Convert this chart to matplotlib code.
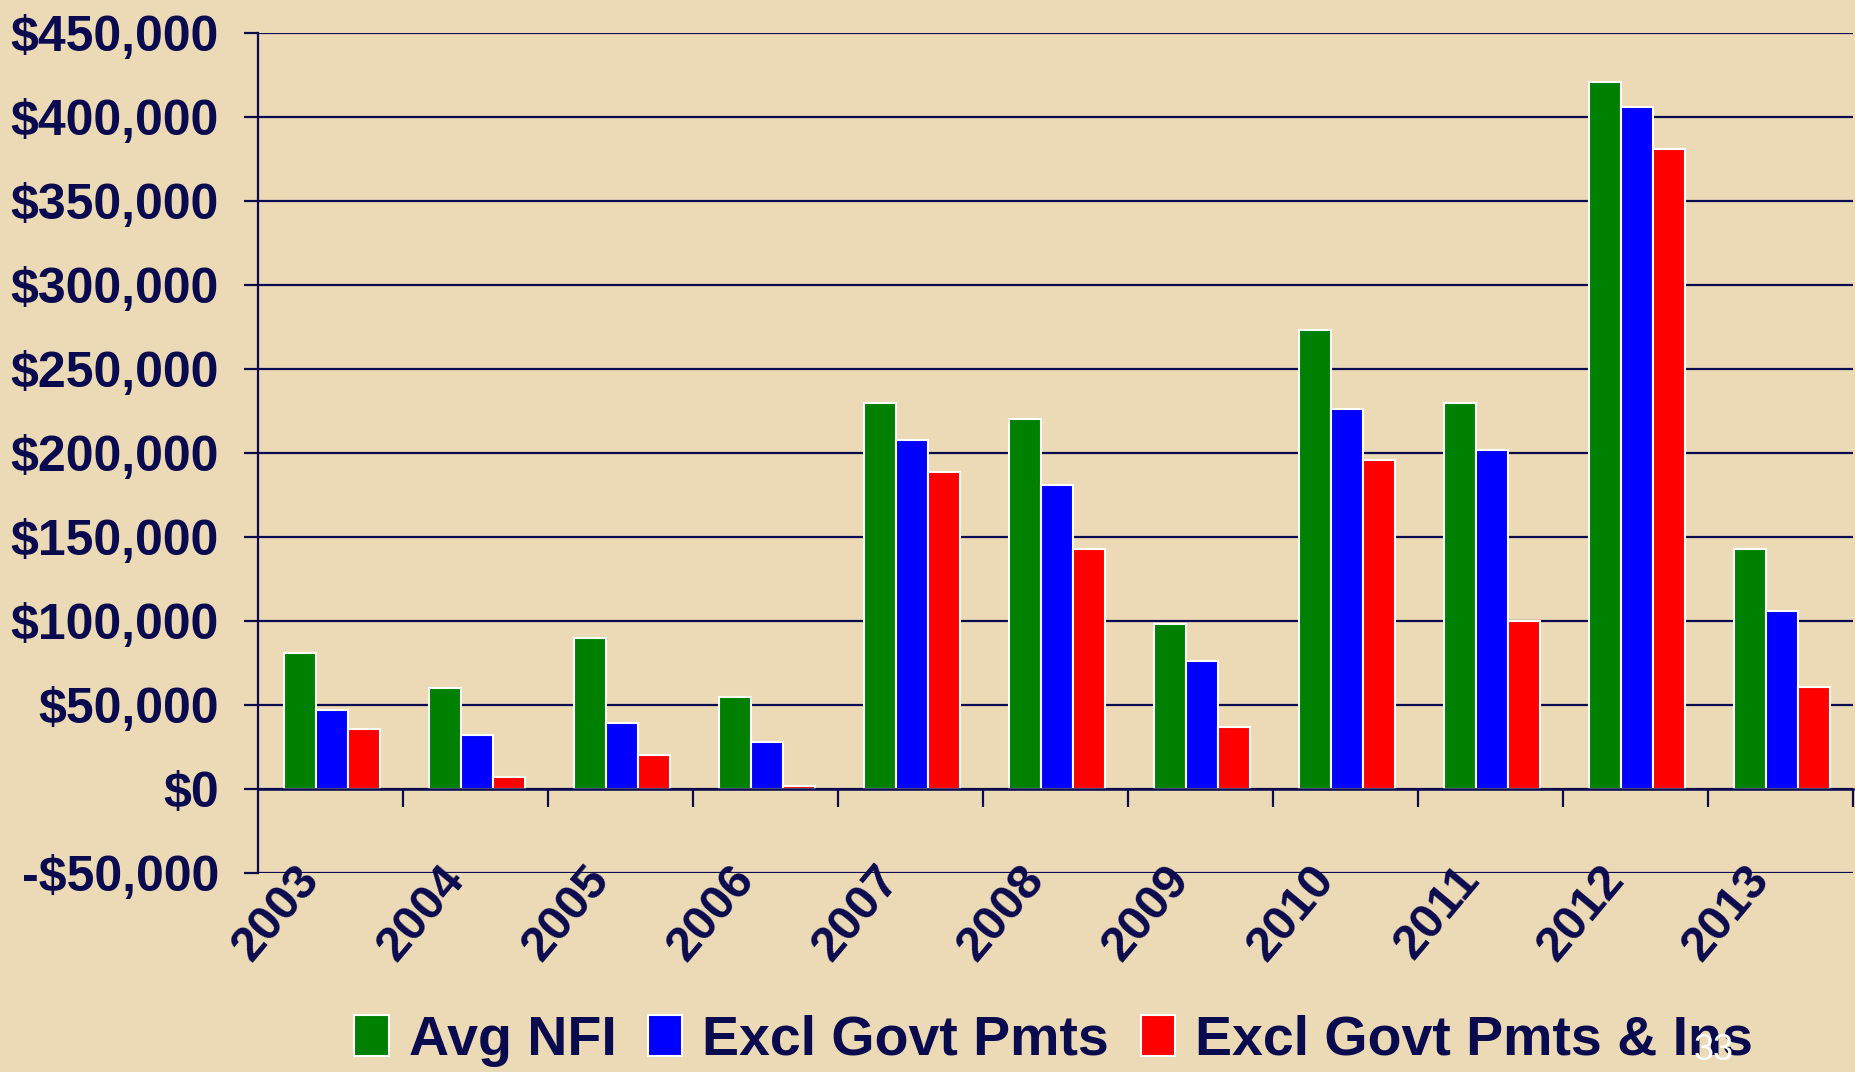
import numpy as np
import matplotlib.pyplot as plt
from matplotlib.ticker import FuncFormatter

# Data
years = ['2003', '2004', '2005', '2006', '2007', '2008', '2009', '2010', '2011', '2012', '2013']
avg_nfi = [81000, 60000, 90000, 55000, 230000, 220000, 98000, 273000, 230000, 421000, 143000]
excl_govt = [47000, 32000, 39000, 28000, 208000, 181000, 76000, 226000, 202000, 406000, 106000]
excl_govt_ins = [36000, 7000, 20000, 2000, 189000, 143000, 37000, 196000, 100000, 381000, 61000]
series_names = ['Avg NFI', 'Excl Govt Pmts', 'Excl Govt Pmts & Ins']
series_colors = ['#008000', '#0000ff', '#ff0000']

navy = '#0a0a4e'
bg = '#ebdab5'
font = 'Liberation Sans'

fig = plt.figure(figsize=(18.55, 10.72), dpi=100, facecolor=bg)
ax = fig.add_axes([0.139, 0.1857, 0.860, 0.7833])
ax.set_facecolor('none')

x = np.arange(len(years))
width = 0.22
for k, (vals, name, col) in enumerate(zip([avg_nfi, excl_govt, excl_govt_ins], series_names, series_colors)):
    ax.bar(x + 0.01 + (k - 1) * width, vals, width, color=col, edgecolor='white',
           linewidth=1.5, label=name, zorder=3)

ax.set_xlim(-0.5, len(years) - 0.5)
ax.set_ylim(-50000, 450000)
ax.set_yticks(np.arange(-50000, 450001, 50000))

def money(v, pos):
    if v < 0:
        return '-${:,.0f}'.format(-v)
    return '${:,.0f}'.format(v)

ax.yaxis.set_major_formatter(FuncFormatter(money))
ax.grid(axis='y', color=navy, linewidth=1.6, zorder=1)
ax.tick_params(axis='y', direction='out', length=10, width=1.6, color=navy, pad=18,
               labelsize=36, labelcolor=navy)
for lab in ax.get_yticklabels():
    lab.set_fontweight('bold')
    lab.set_fontfamily(font)

# x axis sits on the zero line with ticks at category boundaries
ax.spines['top'].set_visible(False)
ax.spines['right'].set_visible(False)
ax.spines['bottom'].set_position(('data', 0))
ax.spines['bottom'].set_color(navy)
ax.spines['bottom'].set_linewidth(1.8)
ax.spines['bottom'].set_zorder(4)
ax.spines['left'].set_color(navy)
ax.spines['left'].set_linewidth(1.6)
ax.set_xticks(x + 0.5)
ax.set_xticklabels([])
ax.tick_params(axis='x', direction='out', length=13, width=1.6, color=navy)

for i, yr in enumerate(years):
    ax.text(i - 0.25, -41000, yr, rotation=50, rotation_mode='anchor', ha='right', va='top',
            fontsize=35, fontweight='bold', color=navy, family=font)

leg = fig.legend(loc='center', bbox_to_anchor=(0.568, 0.029), ncol=3, frameon=False,
                 prop={'family': font, 'weight': 'bold', 'size': 40},
                 handlelength=0.62, handleheight=0.75, handletextpad=0.36, columnspacing=0.57)
for t in leg.get_texts():
    t.set_color(navy)

# slide page number drawn over the legend
fig.text(0.913, 0.004, '33', color='white', fontsize=26, family=font, ha='left', va='bottom',
         zorder=10)

fig.savefig('out.png', dpi=100, facecolor=bg)
